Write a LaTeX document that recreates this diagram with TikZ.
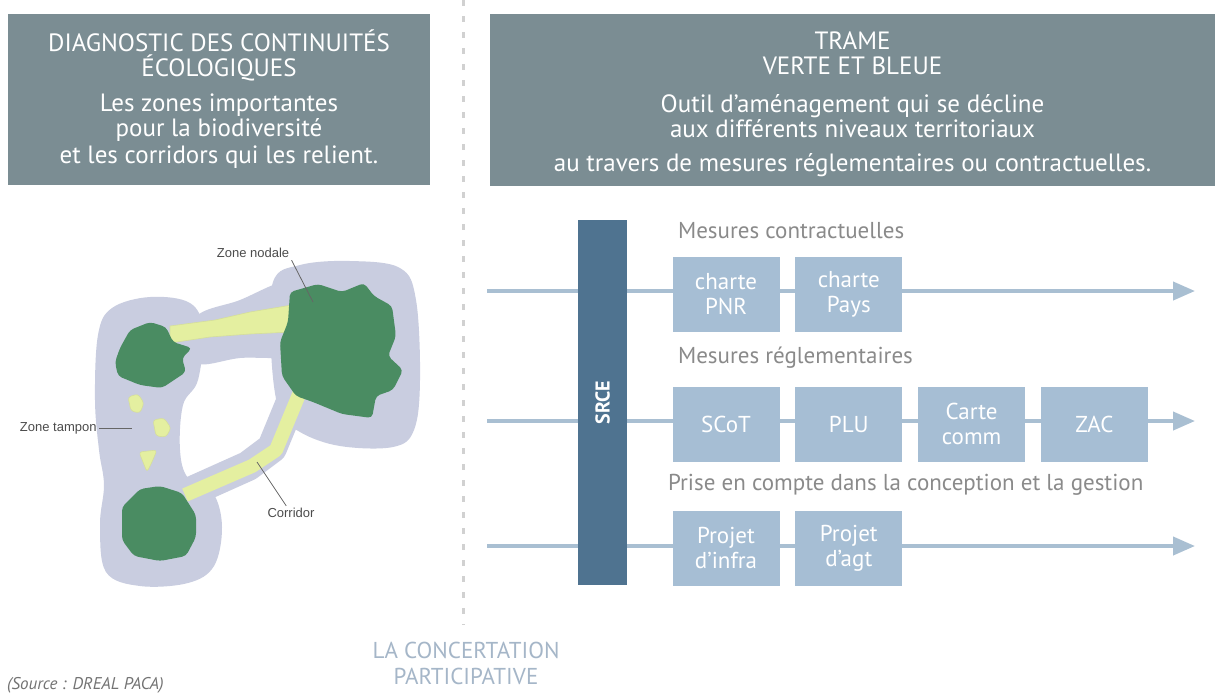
\documentclass[tikz,border=0pt]{standalone}
\usepackage{fontspec}
\setmainfont{PT Sans}
\newfontfamily\mapfont{Liberation Sans}
\usetikzlibrary{positioning,arrows.meta}

\definecolor{headgray}{HTML}{7B8D93}
\definecolor{srceblue}{HTML}{4F7390}
\definecolor{toolblue}{HTML}{A6BED4}
\definecolor{lineblue}{HTML}{A9BFD2}
\definecolor{labelgray}{HTML}{8A8A8A}
\definecolor{bufferzone}{HTML}{C9CDE0}
\definecolor{nodegreen}{HTML}{4A8C62}
\definecolor{corridorgreen}{HTML}{E4EFA0}
\definecolor{concertblue}{HTML}{A5B6C8}

\begin{document}
\begin{tikzpicture}[x=0.5pt,y=-0.5pt,
    header/.style={fill=headgray, text=white, align=center, inner sep=0pt,
      font=\fontsize{12.5}{12.5}\selectfont},
    tool/.style={fill=toolblue, text=white, align=center, inner sep=0pt,
      minimum width=53.5pt, minimum height=37.5pt, font=\fontsize{11.5}{12.5}\selectfont},
    level/.style={anchor=west, text=labelgray, font=\fontsize{11.5}{13}\selectfont},
    axis/.style={lineblue, line width=2pt, -{Triangle[length=11pt,width=9pt]}},
    maplabel/.style={text=black!70, inner sep=1pt, font=\mapfont\fontsize{6.5}{7.5}\selectfont},
    leader/.style={draw=black!60, line width=0.4pt}]
  \fill[white] (0,0) rectangle (1219,692);
  \useasboundingbox (0,0) rectangle (1219,692);

  % headers
  \node[header, minimum width=211pt, minimum height=85.5pt] (diag) at (219,99.5)
    {DIAGNOSTIC DES CONTINUITÉS\\ÉCOLOGIQUES\\[5pt]Les zones importantes\\pour la biodiversité\\[1pt]et les corridors qui les relient.};
  \node[header, minimum width=362.5pt, minimum height=86pt] (trame) at (852.5,100) {};
  \node[header, fill=none, font=\fontsize{12.5}{12.8}\selectfont] (trametext) at (852.5,104)
    {TRAME\\VERTE ET BLEUE\\[6pt]Outil d'aménagement qui se décline\\aux différents niveaux territoriaux\\[4pt]au travers de mesures réglementaires ou contractuelles.};
  \draw[black!18, line width=1.5pt, dash pattern=on 3pt off 5pt] (463,0) -- (463,625);

  % map
  \fill[bufferzone] plot[smooth cycle, tension=0.6] coordinates {(98,335) (112,308) (150,297) (190,303) (203,330) (198,380) (183,405) (180,450) (188,478) (213,493) (222,527) (214,566) (188,583) (140,586) (106,572) (100,525) (104,485) (99,450) (95,400)};
  \fill[bufferzone] plot[smooth cycle, tension=0.6] coordinates {(273,282) (300,265) (350,261) (400,268) (416,300) (420,380) (414,430) (393,447) (340,446) (300,432) (279,410) (271,350)};
  \fill[bufferzone] plot[smooth cycle, tension=0.6] coordinates {(195,318) (240,300) (285,282) (300,300) (298,352) (240,358) (195,362)};
  \draw[bufferzone, line width=15pt, line cap=round, line join=round] (300,380) -- (272,448) -- (248,466) -- (190,492);
  \filldraw[fill=corridorgreen, draw=corridorgreen!85!gray, line width=0.3pt] (170,326) -- (215,320) -- (250,312) -- (292,305) -- (292,332) -- (250,334) -- (210,337) -- (170,343) -- cycle;
  \draw[corridorgreen, line width=7pt, line join=round] (305,380) -- (276,450) -- (252,466) -- (185,495);
  \fill[nodegreen, rounded corners=2pt] plot coordinates {(290,292) (318,284) (342,292) (364,283) (374,296) (392,306) (396,336) (388,356) (403,370) (393,390) (376,396) (372,418) (342,414) (313,402) (296,396) (282,376) (280,342) (288,322)} -- cycle;
  \fill[nodegreen, rounded corners=2pt] plot coordinates {(120,348) (130,330) (150,322) (166,327) (173,342) (192,348) (182,358) (186,372) (162,388) (140,385) (118,376) (115,362)} -- cycle;
  \fill[nodegreen, rounded corners=2pt] plot coordinates {(122,507) (140,489) (160,486) (182,493) (196,515) (196,537) (186,556) (160,561) (134,556) (122,540)} -- cycle;
  \foreach \patch in {{(128,397) (138,394) (144,403) (140,413) (131,411)},
                      {(153,420) (164,418) (171,428) (166,437) (156,436)},
                      {(139,452) (157,450) (152,462) (147,472)}}
    \filldraw[fill=corridorgreen, draw=corridorgreen!85!gray, line width=0.3pt, rounded corners=1.5pt] plot coordinates \patch -- cycle;

  \node[maplabel] (nodale) at (253,253) {Zone nodale};
  \coordinate (nodalept) at (313,302);
  \draw[leader] (nodale.south east) -- (nodalept);
  \node[maplabel, anchor=east] (tampon) at (99,428) {Zone tampon};
  \coordinate (tamponpt) at (132,428);
  \draw[leader] (tampon) -- (tamponpt);
  \node[maplabel] (corr) at (291,513) {Corridor};
  \coordinate (corrpt) at (257,462);
  \draw[leader] (corr) -- (corrpt);

  % levels
  \foreach \r/\y in {A/291,B/421,C/546} {
    \coordinate (start\r) at (487,\y);
    \coordinate (end\r) at (1195,\y);
    \draw[axis] (start\r) -- (end\r);
  }
  \node[rotate=90, fill=srceblue, text=white, inner sep=0pt, minimum width=182.5pt,
    minimum height=24.5pt, font=\bfseries\fontsize{10}{12}\selectfont] (srce) at (602.5,402.5) {SRCE};

  \node[level] (contract) at (671,231) {Mesures contractuelles};
  \node[tool] (pnr) at (726,294) {charte\\PNR};
  \node[tool, right=7.5pt of pnr] (pays) {charte\\Pays};

  \node[level] (regle) at (671,358) {Mesures réglementaires};
  \node[tool] (scot) at (726,424) {SCoT};
  \node[tool, right=7.5pt of scot] (plu) {PLU};
  \node[tool, right=7.5pt of plu] (carte) {Carte\\comm};
  \node[tool, right=7.5pt of carte] (zac) {ZAC};

  \node[level] (gestion) at (661,485) {Prise en compte dans la conception et la gestion};
  \node[tool] (infra) at (726,548) {Projet\\d'infra};
  \node[tool, right=7.5pt of infra] (agt) {Projet\\d'agt};

  \node[text=concertblue, align=center, font=\fontsize{11.5}{13}\selectfont] (concert) at (466,663) {LA CONCERTATION\\PARTICIPATIVE};
  \node[anchor=west, text=black!55, font=\itshape\fontsize{8.5}{10}\selectfont] (source) at (0,685) {(Source : DREAL PACA)};
\end{tikzpicture}
\end{document}
